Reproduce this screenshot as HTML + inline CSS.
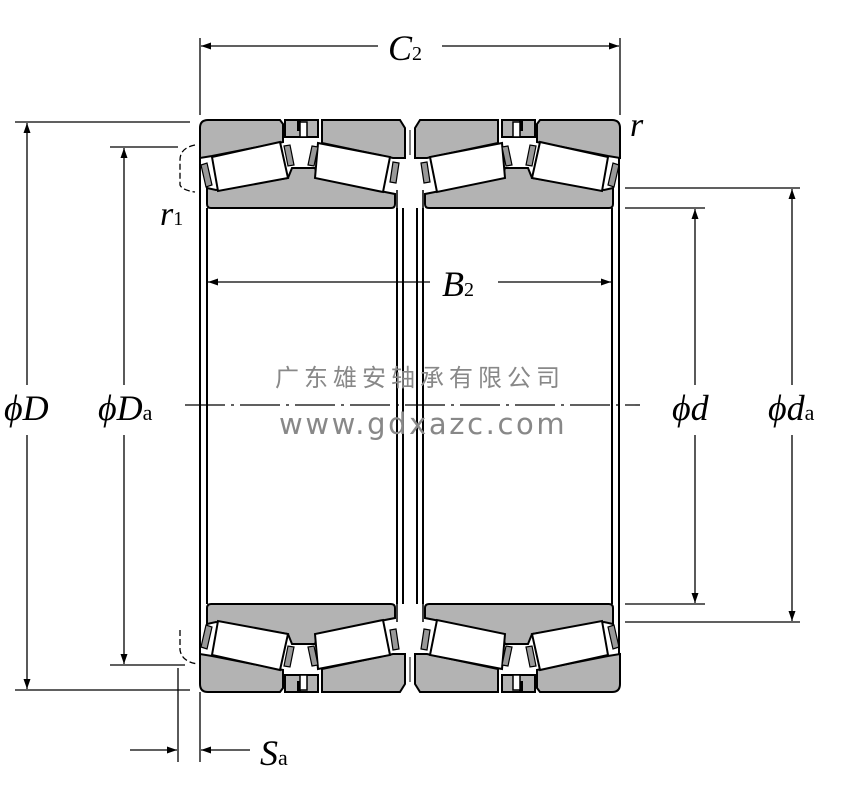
<!DOCTYPE html>
<html><head><meta charset="utf-8"><style>
html,body{margin:0;padding:0;background:#fff;}
svg{display:block}
.t{font-family:"Liberation Serif",serif;font-style:italic;fill:#000}
.u{font-style:normal}
</style></head><body>
<svg width="843" height="800" viewBox="0 0 843 800" xmlns="http://www.w3.org/2000/svg">
<defs>
<marker id="a" viewBox="0 0 10 10" refX="10" refY="5" markerWidth="10" markerHeight="10" orient="auto-start-reverse" markerUnits="userSpaceOnUse"><path d="M0,1.5 L10,5 L0,8.5 Z" fill="#000"/></marker>
<g id="half">
 <g id="q">
  <path d="M200,128 Q200,120 208,120 L280,120 L283,124 L283,142 L212,156 L200,158 Z" fill="#b3b3b3" stroke="#000" stroke-width="2"/>
  <path d="M285,120 L298,120 L298,130 L300,130 L300,120 L318,120 L318,137 L285,137 Z" fill="#b3b3b3" stroke="#000" stroke-width="2"/>
  <rect x="300" y="122" width="7" height="15" fill="#fff" stroke="#000" stroke-width="1.5"/>
  <path d="M322,120 L400,120 L405,128 L405,158 L393,158 L322,143 Z" fill="#b3b3b3" stroke="#000" stroke-width="2"/>
  <path d="M207,198 L207,188 L216,190 L288,178 L292,168 L315,168 L318,178 L385,192 L395,194 L395,204 Q395,208 391,208 L211,208 Q207,208 207,204 Z" fill="#b3b3b3" stroke="#000" stroke-width="2"/>
  <path d="M212,157 L280,142 L288,178 L218,191 Z" fill="#fff" stroke="#000" stroke-width="2"/>
  <path d="M318,143 L390,157 L383,192 L315,178 Z" fill="#fff" stroke="#000" stroke-width="2"/>
  <path d="M201,165 L207,163 L212,185 L206,187 Z" fill="#999" stroke="#000" stroke-width="1.2"/>
  <path d="M284,146 L290,145 L294,165 L288,166 Z" fill="#999" stroke="#000" stroke-width="1.2"/>
  <path d="M312,146 L318,147 L314,166 L308,165 Z" fill="#999" stroke="#000" stroke-width="1.2"/>
  <path d="M393,162 L399,163 L396,183 L390,182 Z" fill="#999" stroke="#000" stroke-width="1.2"/>
 </g>
 <use href="#q" transform="translate(820,0) scale(-1,1)"/>
 <line x1="397" y1="190" x2="397" y2="208" stroke="#000" stroke-width="1.5"/>
 <line x1="423" y1="190" x2="423" y2="208" stroke="#000" stroke-width="1.5"/>
 <line x1="410" y1="130" x2="410" y2="155" stroke="#000" stroke-width="1"/>
</g>
</defs>
<use href="#half"/>
<use href="#half" transform="translate(0,812) scale(1,-1)"/>
<g stroke="#000" stroke-width="2" fill="none">
 <line x1="200" y1="158" x2="200" y2="654"/>
 <line x1="207" y1="208" x2="207" y2="604"/>
 <line x1="619" y1="158" x2="619" y2="654"/>
 <line x1="612" y1="208" x2="612" y2="604"/>
 <line x1="397" y1="208" x2="397" y2="604"/>
 <line x1="403" y1="208" x2="403" y2="604"/>
 <line x1="417" y1="208" x2="417" y2="604"/>
 <line x1="423" y1="208" x2="423" y2="604"/>
</g>
<g stroke="#000" stroke-width="1.3" fill="none">
 <line x1="200" y1="38" x2="200" y2="115"/>
 <line x1="620" y1="38" x2="620" y2="115"/>
 <line x1="201" y1="46" x2="378" y2="46" marker-start="url(#a)"/>
 <line x1="442" y1="46" x2="619" y2="46" marker-end="url(#a)"/>
 <line x1="15" y1="122" x2="190" y2="122"/>
 <line x1="15" y1="690" x2="190" y2="690"/>
 <line x1="27" y1="123" x2="27" y2="385" marker-start="url(#a)"/>
 <line x1="27" y1="435" x2="27" y2="689" marker-end="url(#a)"/>
 <line x1="110" y1="147" x2="178" y2="147"/>
 <line x1="110" y1="665" x2="185" y2="665"/>
 <line x1="124" y1="148" x2="124" y2="385" marker-start="url(#a)"/>
 <line x1="124" y1="435" x2="124" y2="664" marker-end="url(#a)"/>
 <line x1="208" y1="282" x2="430" y2="282" marker-start="url(#a)"/>
 <line x1="498" y1="282" x2="611" y2="282" marker-end="url(#a)"/>
 <line x1="625" y1="208" x2="705" y2="208"/>
 <line x1="625" y1="604" x2="705" y2="604"/>
 <line x1="695" y1="209" x2="695" y2="385" marker-start="url(#a)"/>
 <line x1="695" y1="435" x2="695" y2="603" marker-end="url(#a)"/>
 <line x1="625" y1="188" x2="800" y2="188"/>
 <line x1="625" y1="622" x2="800" y2="622"/>
 <line x1="792" y1="189" x2="792" y2="385" marker-start="url(#a)"/>
 <line x1="792" y1="435" x2="792" y2="621" marker-end="url(#a)"/>
 <line x1="178" y1="668" x2="178" y2="762"/>
 <line x1="200" y1="692" x2="200" y2="762"/>
 <line x1="130" y1="750" x2="177" y2="750" marker-end="url(#a)"/>
 <line x1="250" y1="750" x2="201" y2="750" marker-end="url(#a)"/>
 <path d="M195,145 Q180,148 180,160 L180,185 Q182,190 195,192" stroke-dasharray="6,3"/>
 <path d="M180,630 L180,650 Q182,662 198,664" stroke-dasharray="6,3"/>
 <line x1="185" y1="405" x2="640" y2="405" stroke-dasharray="40,6,3,6"/>
</g>
<text class="t" x="388" y="60" font-size="36">C<tspan class="u" font-size="20">2</tspan></text>
<text class="t" x="630" y="136" font-size="34">r</text>
<text class="t" x="160" y="225" font-size="34">r<tspan class="u" font-size="20">1</tspan></text>
<text class="t" x="442" y="296" font-size="36">B<tspan class="u" font-size="20">2</tspan></text>
<text class="t" x="4" y="420" font-size="36">ϕD</text>
<text class="t" x="98" y="420" font-size="36">ϕD<tspan class="u" font-size="22">a</tspan></text>
<text class="t" x="672" y="420" font-size="36">ϕd</text>
<text class="t" x="768" y="420" font-size="36">ϕd<tspan class="u" font-size="22">a</tspan></text>
<text class="t" x="260" y="765" font-size="36">S<tspan class="u" font-size="22">a</tspan></text>
<text x="275" y="386" font-family="'Liberation Sans','Noto Sans CJK SC',sans-serif" font-size="24" fill="#888" letter-spacing="5">广东雄安轴承有限公司</text>
<text x="279" y="434" font-family="'DejaVu Sans',sans-serif" font-size="29" fill="#888" letter-spacing="2.6">www.gdxazc.com</text>
</svg>
</body></html>
